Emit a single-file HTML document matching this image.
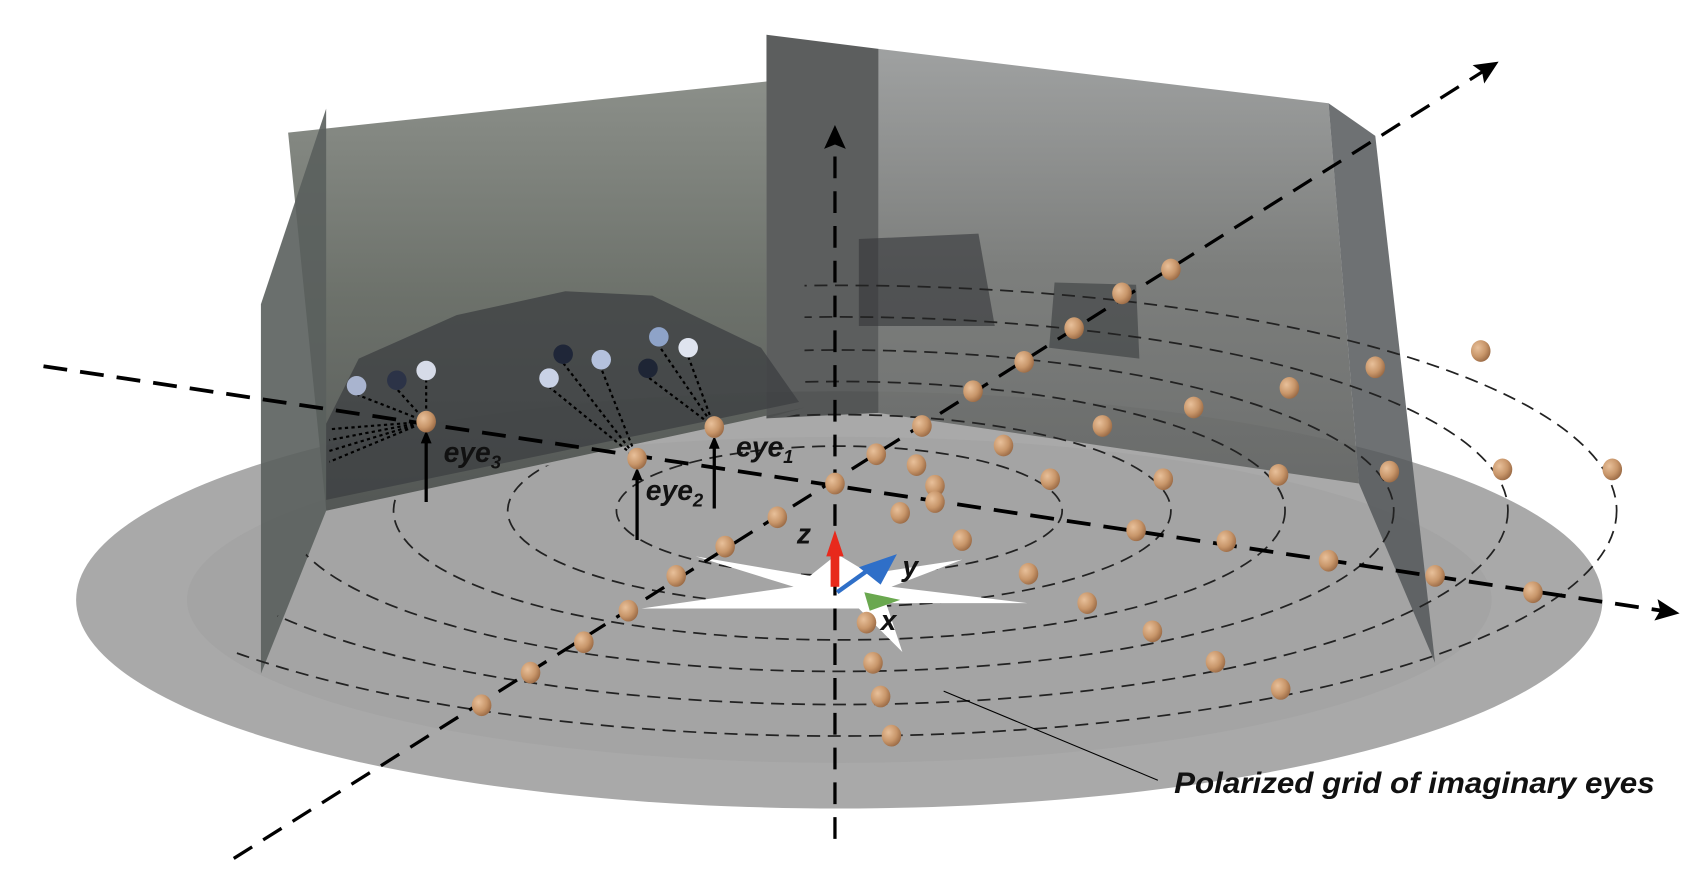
<!DOCTYPE html>
<html><head><meta charset="utf-8"><style>
html,body{margin:0;padding:0;background:#fff;}
svg{display:block;}
text{font-family:"Liberation Sans Narrow","Liberation Sans",sans-serif;font-weight:bold;font-style:italic;fill:#111;}
</style></head><body>
<svg id="fig" width="1696" height="878" viewBox="0 0 1560 808" preserveAspectRatio="none" xmlns="http://www.w3.org/2000/svg">
<defs>
<radialGradient id="ball" cx="0.35" cy="0.35" r="0.7"><stop offset="0" stop-color="#e8c09a"/><stop offset="0.6" stop-color="#c8966a"/><stop offset="1" stop-color="#9a6a45"/></radialGradient>
<linearGradient id="panelL" x1="0" y1="0" x2="0" y2="1"><stop offset="0" stop-color="#858983"/><stop offset="0.5" stop-color="#656a63"/><stop offset="1" stop-color="#4f5351"/></linearGradient>
<linearGradient id="panelR" x1="0" y1="0" x2="0" y2="1"><stop offset="0" stop-color="#9a9c9c"/><stop offset="0.5" stop-color="#767876"/><stop offset="1" stop-color="#666867"/></linearGradient>
<marker id="ah" markerWidth="10" markerHeight="10" refX="6" refY="5" orient="auto" markerUnits="userSpaceOnUse"><path d="M0,0 L12,5 L0,10 z" fill="#000"/></marker>
<marker id="ahL" markerWidth="22" markerHeight="20" refX="12" refY="10" orient="auto" markerUnits="userSpaceOnUse"><path d="M0,0 L22,10 L0,20 L4,10 z" fill="#000"/></marker>
<clipPath id="ringClip"><polygon points="740,0 1560,0 1560,808 0,808 0,600 240,600 300,470 740,380"/></clipPath>
</defs>

<ellipse cx="772" cy="552" rx="702" ry="192" fill="#a9a9a9"/>
<ellipse cx="772" cy="552" rx="600" ry="150" fill="#a4a4a4"/>

<polygon points="265,122 705,75 705,385 740,375 300,470" fill="url(#panelL)" opacity="0.95"/>
<polygon points="808,45 1222,95 1250,445 808,380" fill="url(#panelR)" opacity="0.95"/>
<polygon points="705,32 808,45 808,380 705,385" fill="#4a4d4d" opacity="0.9"/>
<polygon points="300,100 300,470 240,620 240,280" fill="#5a5f5d" opacity="0.9"/>
<polygon points="1222,95 1265,125 1320,610 1250,445" fill="#55585a" opacity="0.85"/>
<polygon points="300,390 330,330 420,290 520,268 600,272 700,320 735,370 300,460" fill="#3c3f42" opacity="0.75"/>
<polygon points="790,220 900,215 915,300 790,300" fill="#333639" opacity="0.6"/>
<polygon points="970,260 1045,262 1048,330 965,320" fill="#3a3d40" opacity="0.6"/>

<g id="rings" fill="none" stroke="#222" stroke-width="1.6" stroke-dasharray="12,7" clip-path="url(#ringClip)"></g>

<polygon points="770,510 800,528 885,515 820,540 945,555 815,555 830,600 790,560 590,560 730,540 640,512 745,530" fill="#fff"/>

<line x1="40" y1="337" x2="1535" y2="563" stroke="#000" stroke-width="3.5" stroke-dasharray="22,12" marker-end="url(#ahL)"/>
<line x1="215" y1="790" x2="1370" y2="62" stroke="#000" stroke-width="3" stroke-dasharray="20,12" marker-end="url(#ahL)"/>
<line x1="768" y1="772" x2="768" y2="125" stroke="#000" stroke-width="3" stroke-dasharray="20,12" marker-end="url(#ahL)"/>

<g id="rays" stroke="#000" stroke-width="2" stroke-dasharray="3,3" fill="none"></g>
<g id="eyes"></g>
<g id="balls"></g>

<g stroke="#000" stroke-width="3">
<line x1="392" y1="462" x2="392" y2="402" marker-end="url(#ah)"/>
<line x1="586" y1="497" x2="586" y2="436" marker-end="url(#ah)"/>
<line x1="657" y1="468" x2="657" y2="407" marker-end="url(#ah)"/>
</g>

<line x1="768" y1="545" x2="768" y2="505" stroke="#000" stroke-width="2"/>
<polygon points="760,512 768,488 776,512" fill="#e8291c"/>
<rect x="764" y="505" width="8" height="35" fill="#e8291c"/>
<line x1="770" y1="545" x2="805" y2="520" stroke="#2f6fc8" stroke-width="4"/>
<polygon points="790,522 825,510 810,538" fill="#2f6fc8"/>
<polygon points="795,545 828,552 800,562" fill="#6aa84f"/>

<text x="408" y="425" font-size="26">eye<tspan font-size="17" dy="6">3</tspan></text>
<text x="594" y="460" font-size="26">eye<tspan font-size="17" dy="6">2</tspan></text>
<text x="677" y="420" font-size="26">eye<tspan font-size="17" dy="6">1</tspan></text>
<text x="733" y="500" font-size="26">z</text>
<text x="830" y="530" font-size="26">y</text>
<text x="810" y="580" font-size="26">x</text>

<line x1="868" y1="636" x2="1065" y2="718" stroke="#000" stroke-width="1"/>
<text x="1080" y="730" font-size="27" textLength="442" lengthAdjust="spacingAndGlyphs">Polarized grid of imaginary eyes</text>

<script>
const NS='http://www.w3.org/2000/svg';
const ringRx=[205,305,410,510,615,715];
const ringCx=772, ringCy=470, ringRatio=0.29;
const ballX=[392,586,657,768,715,667,622,578,537,488,443,806,848,895,942,988,1032,1077,843,860,860,828,885,923,966,946,1014,1070,1045,1000,1098,1128,1060,1186,1176,1222,1118,1265,1278,1320,1178,1362,1382,1410,1483,797,803,810,820];
const ballY=[388,422,393,445,476,503,530,562,591,619,649,418,392,360,333,302,270,248,428,447,462,472,497,410,441,528,392,441,488,555,375,498,581,357,437,516,609,338,434,530,634,323,432,545,432,573,610,641,677];
const eyeX=[328,365,392,505,518,553,596,606,633];
const eyeY=[355,350,341,348,326,331,339,310,320];
const eyeCol=['#a9b4cf','#2c3347','#d6dbe8','#c9d2e6','#1f2638','#b4c1dd','#1e2535','#8ea3c8','#dfe4ef'];
const eyeOwner=[0,0,0,1,1,1,2,2,2];
const ownerX=[392,586,657], ownerY=[388,422,393];
const rings=document.getElementById('rings');
ringRx.forEach(rx=>{const e=document.createElementNS(NS,'ellipse');


e.setAttribute('cx',ringCx);e.setAttribute('cy',ringCy);e.setAttribute('rx',rx);e.setAttribute('ry',rx*ringRatio);rings.appendChild(e);});
const rays=document.getElementById('rays');
eyeX.forEach((x,i)=>{const l=document.createElementNS(NS,'line');


const o=eyeOwner[i];l.setAttribute('x1',ownerX[o]);l.setAttribute('y1',ownerY[o]);l.setAttribute('x2',x);l.setAttribute('y2',eyeY[i]+8);rays.appendChild(l);});
[[303,395],[303,405],[303,415],[303,425]].forEach(p=>{const l=document.createElementNS(NS,'line');


l.setAttribute('x1',392);l.setAttribute('y1',388);l.setAttribute('x2',p[0]);l.setAttribute('y2',p[1]);rays.appendChild(l);});
const eyes=document.getElementById('eyes');
eyeX.forEach((x,i)=>{const c=document.createElementNS(NS,'circle');


c.setAttribute('cx',x);c.setAttribute('cy',eyeY[i]);c.setAttribute('r',9);c.setAttribute('fill',eyeCol[i]);eyes.appendChild(c);});
const balls=document.getElementById('balls');
ballX.forEach((x,i)=>{const c=document.createElementNS(NS,'ellipse');


c.setAttribute('cx',x);c.setAttribute('cy',ballY[i]);c.setAttribute('rx',9);c.setAttribute('ry',10);c.setAttribute('fill','url(#ball)');balls.appendChild(c);});
</script>
</svg>
</body></html>
